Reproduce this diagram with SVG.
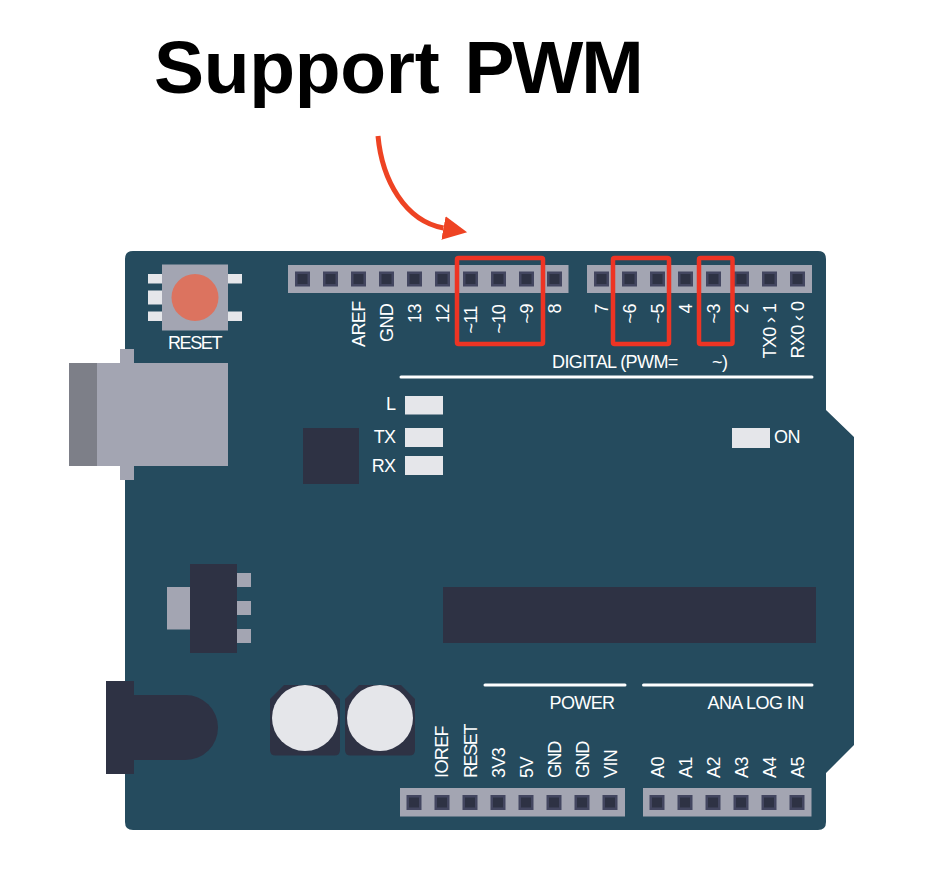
<svg xmlns="http://www.w3.org/2000/svg" width="931" height="877" viewBox="0 0 931 877">
<style>
.board{fill:#254b5e}.dark{fill:#2e3244}.grey{fill:#a3a5b2}.grey2{fill:#7d7f88}.light{fill:#e5e6ea}
.pinO{fill:#434660}.box{fill:none;stroke:#ee3424;stroke-width:4.500;stroke-linejoin:round}
.line{stroke:#fff;stroke-width:3;stroke-linecap:round}
text{font-family:"Liberation Sans",Arial,sans-serif;fill:#fff;font-size:18px;letter-spacing:-0.6px}
.e{text-anchor:end}
.tight{letter-spacing:-1.400px}
.title{font-size:75px;font-weight:bold;fill:#000;letter-spacing:-0.300px;word-spacing:4.500px}
</style>
<defs>
<g id="pin"><rect x="-7.500" y="-7.500" width="15" height="15" class="pinO"/><rect x="-5" y="-5" width="10" height="10" class="dark"/></g>
<marker id="head" markerUnits="userSpaceOnUse" markerWidth="26" markerHeight="26" refX="0" refY="13" orient="auto"><path d="M0 1L24 13L0 25Z" fill="#ee4323"/></marker>
</defs>
<rect width="931" height="877" fill="#fff"/>
<g id="title"><text class="title" x="154" y="93">Support <tspan letter-spacing="-2px">PWM</tspan></text></g>
<g id="board"><path class="board" d="M133 251H818Q826 251 826 259V410L854 437V745L826 773V822Q826 830 818 830H133Q125 830 125 822V259Q125 251 133 251Z"/></g>
<g id="usb">
<rect class="grey" x="120" y="349" width="14" height="131"/>
<rect class="grey" x="97" y="363" width="131" height="103"/>
<rect class="grey2" x="69" y="363" width="28" height="103"/>
</g>
<g id="reset-button">
<rect class="light" x="148" y="274" width="14" height="9.500"/>
<rect class="light" x="148" y="290.500" width="14" height="14"/>
<rect class="light" x="148" y="311.500" width="14" height="9.500"/>
<rect class="light" x="228" y="274" width="14" height="9.500"/>
<rect class="light" x="228" y="311.500" width="14" height="9.500"/>
<rect class="grey" x="162" y="264.500" width="66" height="66"/>
<circle cx="195" cy="297.500" r="23.500" fill="#dc735f"/>
<text class="tight" x="168" y="348.500">RESET</text>
</g>
<g id="header-digital-high">
<rect class="grey" x="288" y="265" width="280.500" height="28"/>
<use href="#pin" x="302.500" y="279"/><use href="#pin" x="330.500" y="279"/><use href="#pin" x="358.500" y="279"/><use href="#pin" x="386.500" y="279"/><use href="#pin" x="414.500" y="279"/><use href="#pin" x="442.500" y="279"/><use href="#pin" x="470.500" y="279"/><use href="#pin" x="498.500" y="279"/><use href="#pin" x="526.500" y="279"/><use href="#pin" x="554.500" y="279"/>
<text transform="translate(365 347) rotate(-90)" letter-spacing="-0.900">AREF</text>
<text transform="translate(393 342) rotate(-90)" letter-spacing="-1">GND</text>
<text transform="translate(421 323) rotate(-90)">13</text>
<text transform="translate(449 323) rotate(-90)">12</text>
<text transform="translate(477 333.500) rotate(-90)">~11</text>
<text transform="translate(505 333.500) rotate(-90)">~10</text>
<text transform="translate(533 323.500) rotate(-90)">~9</text>
<text transform="translate(561 313.500) rotate(-90)">8</text>
</g>
<g id="header-digital-low">
<rect class="grey" x="587" y="265" width="225" height="28"/>
<use href="#pin" x="601.500" y="279"/><use href="#pin" x="629.500" y="279"/><use href="#pin" x="657.500" y="279"/><use href="#pin" x="685.500" y="279"/><use href="#pin" x="713.500" y="279"/><use href="#pin" x="741.500" y="279"/><use href="#pin" x="769.500" y="279"/><use href="#pin" x="797.500" y="279"/>
<text transform="translate(608 313.500) rotate(-90)">7</text>
<text transform="translate(636 323.500) rotate(-90)">~6</text>
<text transform="translate(664 323.500) rotate(-90)">~5</text>
<text transform="translate(692 313.500) rotate(-90)">4</text>
<text transform="translate(720 323.500) rotate(-90)">~3</text>
<text transform="translate(748 313.500) rotate(-90)">2</text>
<text transform="translate(776 358.500) rotate(-90)">TX0 › 1</text>
<text transform="translate(804 358.500) rotate(-90)">RX0 ‹ 0</text>
</g>
<g id="digital-label">
<line class="line" x1="401" y1="377" x2="812" y2="377"/>
<text x="552" y="368">DIGITAL (PWM=</text>
<text x="712" y="368">~)</text>
</g>
<g id="leds">
<rect class="light" x="405" y="396" width="38" height="18.500"/>
<rect class="light" x="405" y="428" width="38" height="19"/>
<rect class="light" x="405" y="456" width="38" height="19"/>
<rect class="light" x="732" y="428" width="38" height="20"/>
<text class="e" x="395.500" y="410">L</text>
<text class="e" x="395.500" y="443">TX</text>
<text class="e" x="395.500" y="472">RX</text>
<text x="774" y="443">ON</text>
</g>
<g id="small-chip"><rect class="dark" x="303" y="428" width="56" height="56"/></g>
<g id="main-chip"><rect class="dark" x="443" y="587" width="373" height="56"/></g>
<g id="regulator">
<rect class="grey" x="167" y="587" width="23" height="42.500"/>
<rect class="grey" x="237" y="573" width="14" height="14"/>
<rect class="grey" x="237" y="601" width="14" height="14"/>
<rect class="grey" x="237" y="629" width="14" height="14"/>
<rect class="dark" x="190" y="564" width="47" height="89"/>
</g>
<g id="power-jack">
<rect class="dark" x="106" y="681" width="28" height="93"/>
<path class="dark" d="M134 695H185.500A32.500 32.500 0 0 1 185.500 760H134Z"/>
</g>
<g id="capacitor-1">
<path class="dark" d="M284 685H326L340 699V750Q340 755.500 334.500 755.500H275.500Q270 755.500 270 750V699Z"/>
<circle class="light" cx="305" cy="718" r="33"/>
</g>
<g id="capacitor-2">
<path class="dark" d="M359 685H401L415 699V750Q415 755.500 409.500 755.500H350.500Q345 755.500 345 750V699Z"/>
<circle class="light" cx="380" cy="718" r="33"/>
</g>
<g id="header-power">
<rect class="grey" x="400" y="788" width="225" height="28.500"/>
<use href="#pin" x="414" y="802.500"/><use href="#pin" x="442" y="802.500"/><use href="#pin" x="470" y="802.500"/><use href="#pin" x="498" y="802.500"/><use href="#pin" x="526" y="802.500"/><use href="#pin" x="554" y="802.500"/><use href="#pin" x="582" y="802.500"/><use href="#pin" x="610" y="802.500"/>
<text transform="translate(448 778) rotate(-90)">IOREF</text>
<text class="tight" transform="translate(476.500 778) rotate(-90)">RESET</text>
<text transform="translate(504.500 778) rotate(-90)">3V3</text>
<text transform="translate(532.500 778) rotate(-90)">5V</text>
<text class="tight" transform="translate(560.500 778) rotate(-90)">GND</text>
<text class="tight" transform="translate(588.500 778) rotate(-90)">GND</text>
<text transform="translate(616.500 778) rotate(-90)">VIN</text>
<line class="line" x1="485" y1="685" x2="625" y2="685"/>
<text x="549.500" y="709">POWER</text>
</g>
<g id="header-analog">
<rect class="grey" x="643" y="788" width="168.500" height="28.500"/>
<use href="#pin" x="657" y="802.500"/><use href="#pin" x="685" y="802.500"/><use href="#pin" x="713" y="802.500"/><use href="#pin" x="741" y="802.500"/><use href="#pin" x="769" y="802.500"/><use href="#pin" x="797" y="802.500"/>
<text transform="translate(664 778) rotate(-90)">A0</text>
<text transform="translate(692 778) rotate(-90)">A1</text>
<text transform="translate(720 778) rotate(-90)">A2</text>
<text transform="translate(748 778) rotate(-90)">A3</text>
<text transform="translate(776 778) rotate(-90)">A4</text>
<text transform="translate(804 778) rotate(-90)">A5</text>
<line class="line" x1="643.500" y1="685" x2="812" y2="685"/>
<text x="707.500" y="709">ANA LOG IN</text>
</g>
<g id="pwm-boxes">
<rect class="box" x="457" y="258" width="86" height="86" rx="1.500"/>
<rect class="box" x="613" y="258" width="56" height="86" rx="1.500"/>
<rect class="box" x="699" y="258" width="33.500" height="86" rx="1.500"/>
</g>
<g id="connectors">
<path d="M378 136C382 180 405 221 443.500 228" fill="none" stroke="#ee4323" stroke-width="5" marker-end="url(#head)"/>
</g>
</svg>
